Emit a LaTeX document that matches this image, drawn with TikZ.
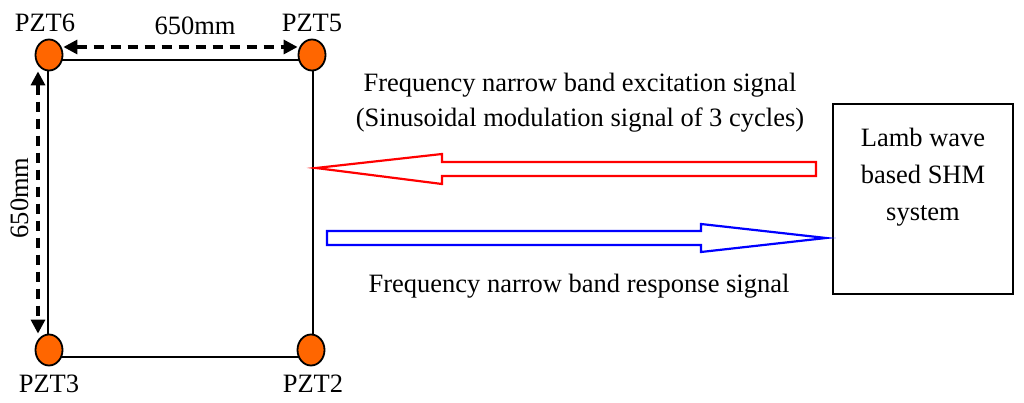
\documentclass[tikz,border=0pt]{standalone}
\usepackage{fontspec}
\setmainfont{Liberation Serif}
\usetikzlibrary{shapes.geometric, arrows.meta, positioning}
\definecolor{pztorange}{RGB}{255,102,0}

\begin{document}
\begin{tikzpicture}[x=1pt, y=-1pt,
  every node/.style={font=\fontsize{26.5}{35}\selectfont},
  pzt/.style={ellipse, draw, line width=1.8pt, fill=pztorange, minimum width=27pt, minimum height=31pt, inner sep=0pt},
  tag/.style={inner sep=0pt},
  dimline/.style={line width=3.2pt, dash pattern=on 10pt off 7pt, {Triangle[length=14pt,width=14pt]}-{Triangle[length=14pt,width=14pt]}},
  sysbox/.style={draw, line width=2.4pt, minimum width=180pt, minimum height=190pt}]
\useasboundingbox (0,0) rectangle (1024,403);
% plate
\draw[line width=2.4pt] (48,60) rectangle (313,357);
\node[pzt] (p6) at (49,55) {};
\node[pzt] (p5) at (312,55) {};
\node[pzt] (p3) at (49,350) {};
\node[pzt] (p2) at (311,350) {};
\node[tag, above=7pt of p6, xshift=-4pt] {PZT6};
\node[tag, above=7pt of p5] {PZT5};
\node[tag, below=8.5pt of p3] {PZT3};
\node[tag, below=8.5pt of p2, xshift=2pt] {PZT2};
% dimensions
\draw[dimline] ([yshift=8pt]p6.east) -- ([yshift=8pt]p5.west);
\draw[dimline] ([xshift=-11pt]p6.south) -- ([xshift=-11pt]p3.north);
\node[anchor=base] (wtop) at (195,35) {650mm};
\node[anchor=base, rotate=90] (wleft) at (28,198) {650mm};
% SHM system
\node[sysbox] (shm) at (923,199) {};
\node[align=center, font=\fontsize{26.5}{37}\selectfont] (shmtext) at (923,177) {Lamb wave\\based SHM\\system};
% signals
\coordinate (rtip) at (316,168);
\coordinate (btip) at (826,238);
\draw[red, line width=2.2pt] (rtip) -- ++(126,-14) -- ++(0,8) -- ++(374,0) -- ++(0,14) -- ++(-374,0) -- ++(0,8) -- cycle;
\draw[blue, line width=2.2pt] (btip) -- ++(-125,-14) -- ++(0,7) -- ++(-374,0) -- ++(0,14) -- ++(374,0) -- ++(0,7) -- cycle;
\node[align=center] (exc) at (580,103) {Frequency narrow band excitation signal\\(Sinusoidal modulation signal of 3 cycles)};
\node[anchor=base] (resp) at (579,292) {Frequency narrow band response signal};
\end{tikzpicture}
\end{document}
